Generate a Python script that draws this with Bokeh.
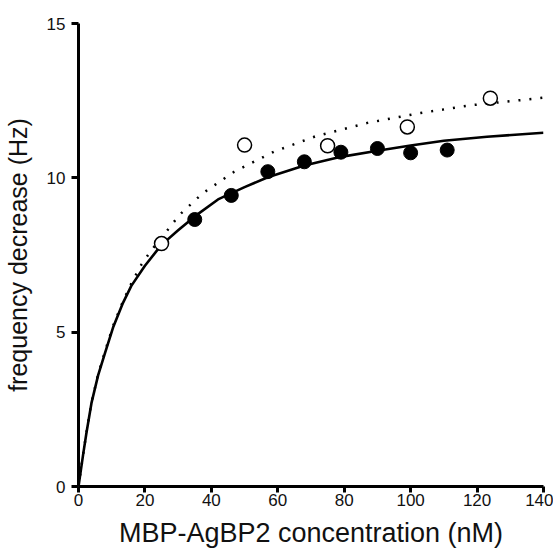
from bokeh.plotting import figure
from bokeh.models import FixedTicker, Title
from bokeh.embed import file_html
from bokeh.resources import INLINE

filled_x = [35, 46, 57, 68, 79, 90, 100, 111]
filled_y = [8.65, 9.43, 10.2, 10.52, 10.83, 10.95, 10.81, 10.9]
open_x = [25, 50, 75, 99, 124]
open_y = [7.87, 11.06, 11.04, 11.65, 12.58]

# Fitted curves
fit_solid_x = [0, 1.4, 2.4, 3.9, 5.9, 7.9, 10.4, 13.4, 15.9, 20, 24.9, 30, 35, 42, 50, 57, 68, 79, 90, 100, 110, 123, 140]
fit_solid_y = [0, 1.04, 1.74, 2.7, 3.6, 4.3, 5.15, 5.95, 6.5, 7.15, 7.82, 8.3, 8.75, 9.3, 9.7, 10.02, 10.4, 10.68, 10.88, 11.05, 11.2, 11.33, 11.46]
fit_dot_x = [0, 1.4, 2.4, 3.9, 5.9, 7.9, 10.4, 13.4, 16, 19, 21.9, 26.4, 30.4, 37.4, 46.9, 58.9, 71.5, 87, 103, 118, 137, 140]
fit_dot_y = [0, 1.05, 1.75, 2.72, 3.63, 4.35, 5.2, 6.0, 6.6, 7.2, 7.65, 8.25, 8.8, 9.5, 10.2, 10.85, 11.35, 11.78, 12.1, 12.35, 12.56, 12.6]

x_ticks = [0, 20, 40, 60, 80, 100, 120, 140]
y_ticks = [0, 5, 10, 15]
x_title = "MBP-AgBP2 concentration (nM)"
y_title = "frequency decrease (Hz)"

FONT = "Liberation Sans"

p = figure(width=553, height=555, x_range=(0, 140), y_range=(0, 15),
           output_backend="svg", toolbar_location=None,
           min_border_left=77, min_border_right=10, min_border_top=23, min_border_bottom=66)
p.outline_line_color = None
p.xgrid.visible = False
p.ygrid.visible = False
p.background_fill_color = "white"
p.border_fill_color = "white"

for ax in (p.xaxis[0], p.yaxis[0]):
    ax.axis_line_width = 3
    ax.axis_line_color = "black"
    ax.major_tick_line_width = 3
    ax.major_tick_line_color = "black"
    ax.major_tick_in = 0
    ax.minor_tick_line_color = None
    ax.major_label_text_font = FONT
    ax.major_label_text_font_size = "17px"
    ax.major_label_text_color = "#111111"
    ax.major_label_text_line_height = 1.0
    ax.axis_label_text_font = FONT
    ax.axis_label_text_font_style = "normal"
    ax.axis_label_text_color = "#111111"
    ax.axis_label_text_line_height = 1.0

p.xaxis[0].major_tick_out = 6
p.yaxis[0].major_tick_out = 7
p.xaxis[0].ticker = FixedTicker(ticks=x_ticks)
p.yaxis[0].ticker = FixedTicker(ticks=y_ticks)
p.yaxis[0].axis_label = y_title
p.yaxis[0].axis_label_text_font_size = "25px"
p.xaxis[0].major_label_standoff = 1
p.yaxis[0].major_label_standoff = 6
p.yaxis[0].axis_label_standoff = 12

p.line(fit_dot_x, fit_dot_y, line_color="black", line_width=2.5, line_dash="2 9")
p.line(fit_solid_x, fit_solid_y, line_color="black", line_width=2.6, line_join="round")

p.scatter(filled_x, filled_y, marker="circle", size=14, fill_color="black", line_color="black")
p.scatter(open_x, open_y, marker="circle", size=14, fill_color="white", line_color="black", line_width=1.5)

# x-axis title as a title below the axis
p.add_layout(Title(text=x_title, align="center", text_font=FONT, text_font_size="27px",
                   text_font_style="normal", text_color="#111111", text_line_height=1.0,
                   standoff=15), "below")

open("out.html", "w").write(file_html(p, INLINE))
